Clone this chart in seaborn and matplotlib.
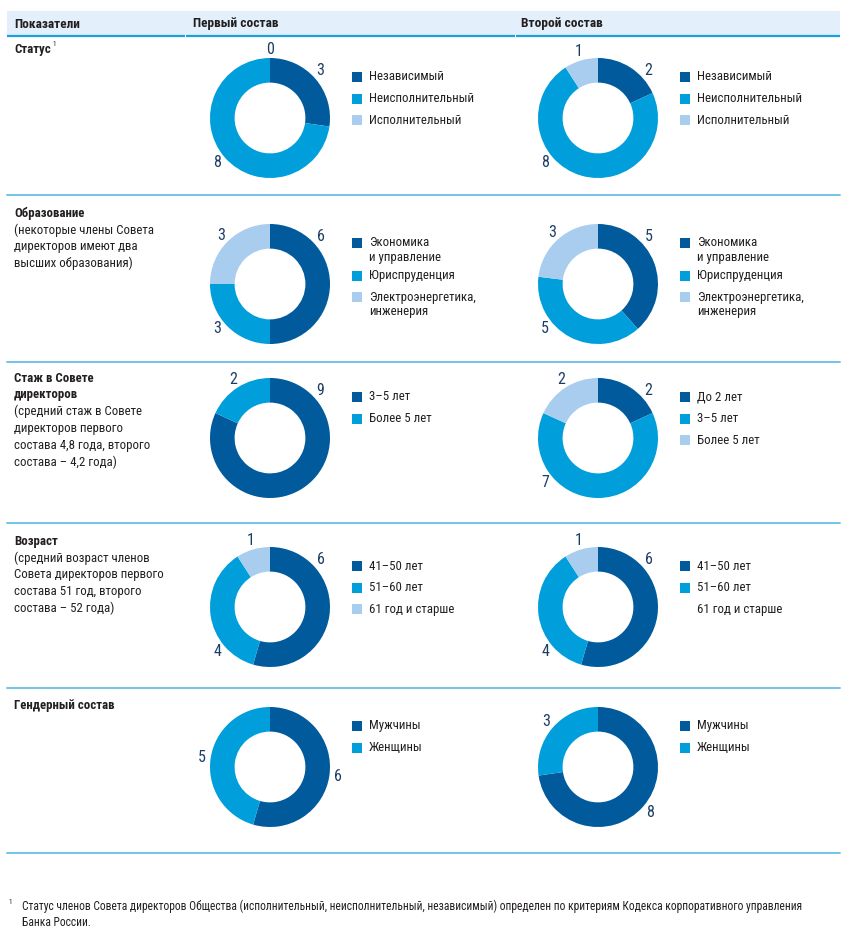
import matplotlib
matplotlib.use("Agg")
import matplotlib.pyplot as plt
import matplotlib.font_manager as fm
import seaborn as sns
import numpy as np

# ---- data ----
row_titles = ["Статус", "Образование", "Стаж в Совете\nдиректоров", "Возраст", "Гендерный состав"]
row_notes = [
    "",
    "(некоторые члены Совета\nдиректоров имеют два\nвысших образования)",
    "(средний стаж в Совете\nдиректоров первого\nсостава 4,8 года, второго\nсостава – 4,2 года)",
    "(средний возраст членов\nСовета директоров первого\nсостава 51 год, второго\nсостава – 52 года)",
    "",
]

status_labels = ["Независимый", "Неисполнительный", "Исполнительный"]
status_first = [3, 8, 0]
status_second = [2, 8, 1]

edu_labels = ["Экономика\nи управление", "Юриспруденция", "Электроэнергетика,\nинженерия"]
edu_first = [6, 3, 3]
edu_second = [5, 5, 3]

tenure_labels_first = ["3–5 лет", "Более 5 лет"]
tenure_first = [9, 2]
tenure_labels_second = ["До 2 лет", "3–5 лет", "Более 5 лет"]
tenure_second = [2, 7, 2]

age_labels = ["41–50 лет", "51–60 лет", "61 год и старше"]
age_first = [6, 4, 1]
age_second = [6, 4, 1]

gender_labels = ["Мужчины", "Женщины"]
gender_first = [6, 5]
gender_second = [8, 3]

footnote = ["Статус членов Совета директоров Общества (исполнительный, неисполнительный, независимый) "
            "определен по критериям Кодекса корпоративного управления",
            "Банка России."]

rows = [
    (status_labels, status_first, status_labels, status_second),
    (edu_labels, edu_first, edu_labels, edu_second),
    (tenure_labels_first, tenure_first, tenure_labels_second, tenure_second),
    (age_labels, age_first, age_labels, age_second),
    (gender_labels, gender_first, gender_labels, gender_second),
]

# ---- style ----
sns.set_theme(style="white")
names = {f.name for f in fm.fontManager.ttflist}
fam = next(f for f in ["Roboto Condensed", "Liberation Sans Narrow", "Roboto", "DejaVu Sans"]
           if f in names or f == "DejaVu Sans")
plt.rcParams["font.family"] = [fam, "DejaVu Sans"]

pal = sns.color_palette(["#005a9b", "#009fdb", "#a8cdef"])
txt = "#231f20"
num_col = "#1c3d66"
sep_col = "#74c3ea"
fs = 9.3
bold = "heavy"

W, H = 850, 936
fig = plt.figure(figsize=(W / 100, H / 100), dpi=100)
bg = fig.add_axes([0, 0, 1, 1])
bg.set_xlim(0, W)
bg.set_ylim(H, 0)
bg.axis("off")

# header band
bg.add_patch(plt.Rectangle((7, 11), 833, 25, color="#e3f0fb", lw=0))
for x0, x1 in [(7, 185), (186, 515), (516, 840)]:
    bg.plot([x0, x1], [36, 36], color="#1aa0da", lw=1.6, solid_capstyle="butt")
for x, head in [(14, "Показатели"), (193, "Первый состав"), (521, "Второй состав")]:
    bg.text(x, 24, head, fontsize=9.6, fontweight=bold, color=txt, va="center")

sep_y = [195, 362, 523, 688, 853]
row_text_y = [50, 213, 378, 541, 705]
centers_y = [118, 284, 438, 607, 767]
corner_labels = [True, True, True, True, False]
col_x = [270, 598]
R = 60
pad = 1.45

for y in sep_y:
    bg.plot([7, 840], [y, y], color=sep_col, lw=1.4)

lh = 16.8
rend = fig.canvas.get_renderer()
for i, (title, note) in enumerate(zip(row_titles, row_notes)):
    y = row_text_y[i]
    for line in title.split("\n"):
        t = bg.text(14, y, line, fontsize=fs, fontweight=bold, color=txt, va="center")
        y += lh
    if i == 0:
        bb = t.get_window_extent(rend)
        bg.text(bb.x1 + 1.5, row_text_y[i] - 5, "1", fontsize=5, color=txt, va="center")
    for line in note.split("\n") if note else []:
        bg.text(14, y, line, fontsize=fs, color=txt, va="center")
        y += lh


def donut(cx, cy, vals, corner):
    ax = fig.add_axes([(cx - R * pad) / W, 1 - (cy + R * pad) / H, 2 * R * pad / W, 2 * R * pad / H])
    ax.pie(vals, colors=pal[:len(vals)], startangle=90, counterclock=False,
           wedgeprops=dict(width=0.41, edgecolor="none"), radius=1)
    ax.set_xlim(-pad, pad)
    ax.set_ylim(-pad, pad)
    ax.set_aspect("equal")
    ax.axis("off")
    tot = sum(vals)
    cum = np.cumsum([0] + list(vals)) / tot * 360
    prefer = [47, 230, None]
    for k, v in enumerate(vals):
        a0, a1 = cum[k], cum[k + 1]
        ang = (a0 + a1) / 2
        if corner and prefer[k] is not None and a0 <= prefer[k] <= a1:
            ang = prefer[k]
        rad = np.deg2rad(ang)
        rr = 1.15
        ax.text(rr * np.sin(rad), rr * np.cos(rad), str(v), fontsize=11.5,
                color=num_col, ha="center", va="center")


def legend(x, y, labels, no_marker_last=False):
    for k, lab in enumerate(labels):
        lines = lab.split("\n")
        if not (no_marker_last and k == len(labels) - 1):
            bg.add_patch(plt.Rectangle((x, y - 5), 10, 10, color=pal[k], lw=0))
        for j, ln in enumerate(lines):
            bg.text(x + 17, y + j * 15, ln, fontsize=fs, color=txt, va="center")
        y += 21.5 + 11 * (len(lines) - 1)


for i, (l1, v1, l2, v2) in enumerate(rows):
    cy = centers_y[i]
    donut(col_x[0], cy, v1, corner_labels[i])
    donut(col_x[1], cy, v2, corner_labels[i])
    legend(352, cy - 41, l1)
    legend(680, cy - 41, l2, no_marker_last=(i == 3))

bg.text(8, 903, "1", fontsize=5, color=txt, va="center")
bg.text(22, 906, footnote[0], fontsize=8.3, color=txt, va="center")
bg.text(22, 922, footnote[1], fontsize=8.3, color=txt, va="center")

fig.savefig("out.png", dpi=100)
